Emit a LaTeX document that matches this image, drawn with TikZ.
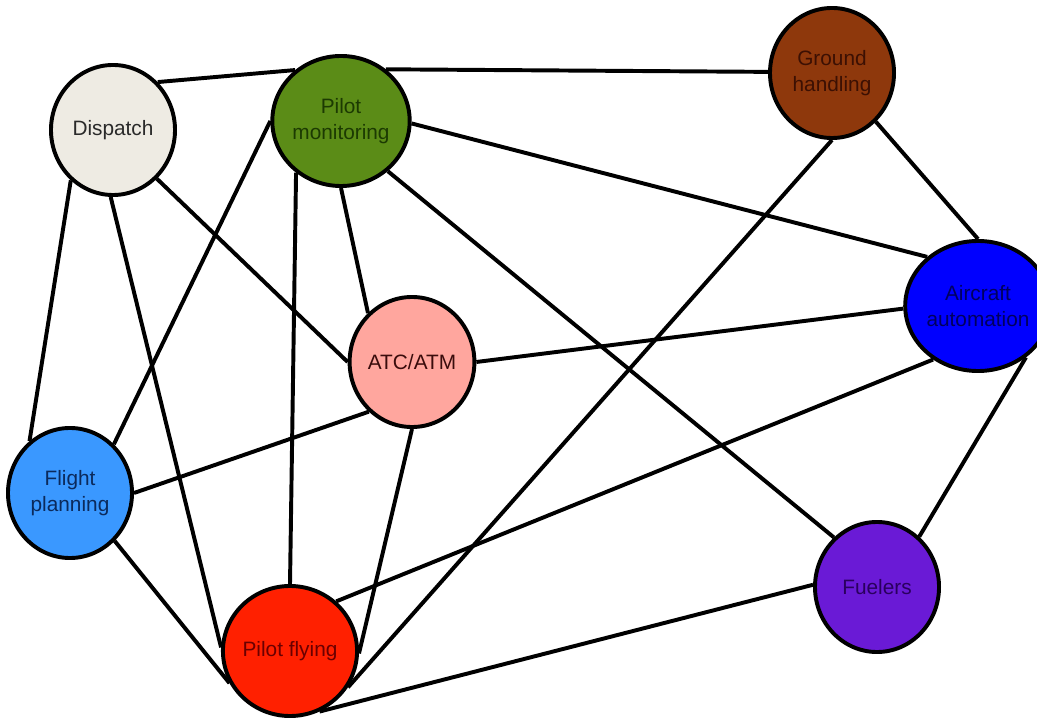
\documentclass[tikz,border=0pt]{standalone}
\usepackage{fontspec}
\setmainfont{Liberation Sans}
\usetikzlibrary{shapes.geometric}
\definecolor{dispfill}{HTML}{EEEBE3}
\definecolor{disptext}{HTML}{2A2A2A}
\definecolor{pmonfill}{HTML}{5B8C17}
\definecolor{pmontext}{HTML}{1C3A02}
\definecolor{groundfill}{HTML}{8E380C}
\definecolor{groundtext}{HTML}{3C1003}
\definecolor{autofill}{HTML}{0000FF}
\definecolor{autotext}{HTML}{00005E}
\definecolor{atcfill}{HTML}{FFA69E}
\definecolor{atctext}{HTML}{3A0C0C}
\definecolor{fplanfill}{HTML}{3A98FF}
\definecolor{fplantext}{HTML}{0B2A5C}
\definecolor{pflyfill}{HTML}{FF2000}
\definecolor{pflytext}{HTML}{6A0000}
\definecolor{fuelfill}{HTML}{6A1AD6}
\definecolor{fueltext}{HTML}{2A005E}

\begin{document}
\begin{tikzpicture}[x=0.025cm,y=-0.025cm,
    actor/.style={ellipse,draw,line width=2.8pt,minimum width=3.1cm,minimum height=3.25cm,inner sep=0pt,align=center,font=\fontsize{14.8}{18.5}\selectfont},
    link/.style={line width=2.8pt}]
    \useasboundingbox (0,0) rectangle (1037,720);
    \node[actor,fill=dispfill,text=disptext] (disp) at (113,130) {Dispatch};
    \node[actor,fill=pmonfill,text=pmontext] (pmon) at (341,121) {Pilot\\monitoring};
    \node[actor,fill=groundfill,text=groundtext] (ground) at (832,73) {Ground\\handling};
    \node[actor,fill=autofill,text=autotext] (auto) at (978,306) {Aircraft\\automation};
    \node[actor,fill=atcfill,text=atctext] (atc) at (412,362) {ATC/ATM};
    \node[actor,fill=fplanfill,text=fplantext] (fplan) at (70,493) {Flight\\planning};
    \node[actor,fill=pflyfill,text=pflytext] (pfly) at (290,651) {Pilot flying};
    \node[actor,fill=fuelfill,text=fueltext] (fuel) at (877,587) {Fuelers};
    \draw[link] (disp.47) -- (pmon.132);
    \draw[link] (pmon.49) -- (ground.179);
    \draw[link] (disp.230) -- (fplan.128);
    \draw[link] (disp.268) -- (pfly.177);
    \draw[link] (disp.312) -- (atc.180);
    \draw[link] (pmon.180) -- (fplan.48);
    \draw[link] (pmon.229) -- (pfly.90);
    \draw[link] (pmon.270) -- (atc.132);
    \draw[link] (pmon.358) -- (auto.136);
    \draw[link] (pmon.313) -- (fuel.131);
    \draw[link] (ground.312) -- (auto.90);
    \draw[link] (ground.270) -- (pfly.328);
    \draw[link] (atc.0) -- (auto.182);
    \draw[link] (atc.229) -- (fplan.0);
    \draw[link] (atc.270) -- (pfly.358);
    \draw[link] (auto.230) -- (pfly.47);
    \draw[link] (auto.313) -- (fuel.50);
    \draw[link] (fplan.313) -- (pfly.208);
    \draw[link] (fuel.178) -- (pfly.296);
\end{tikzpicture}
\end{document}
